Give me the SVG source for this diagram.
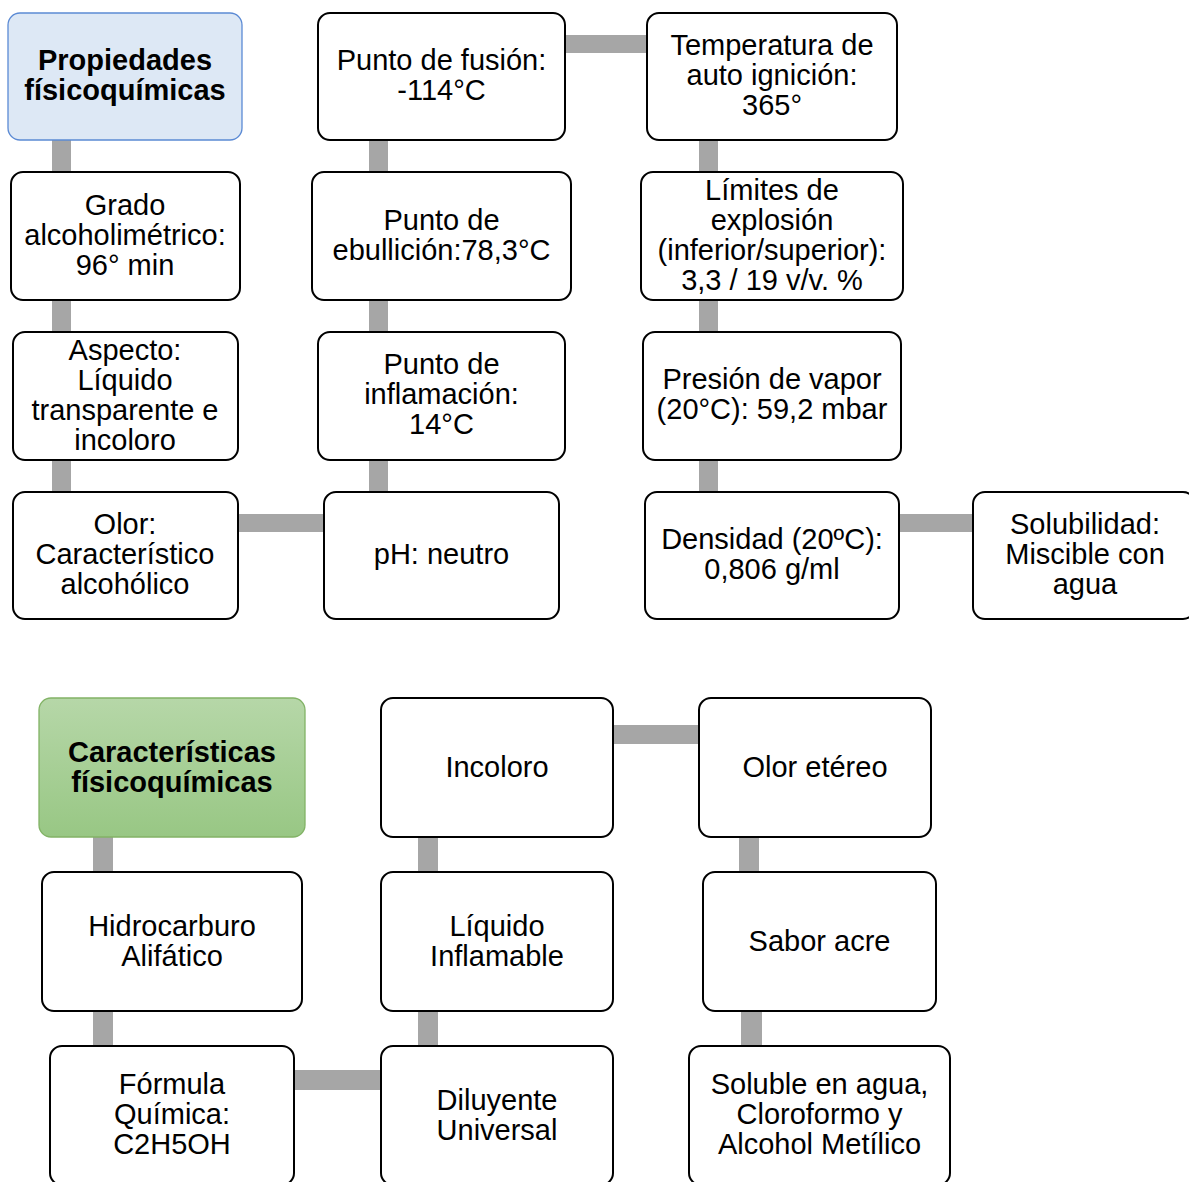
<svg xmlns="http://www.w3.org/2000/svg" width="1189" height="1182" viewBox="0 0 1189 1182">
  <style>
    .box { fill: #ffffff; stroke: #000000; stroke-width: 2; }
    .head-blue { fill: #dde8f5; stroke: #5b8ad4; stroke-width: 1.3; }
    .head-green { fill: url(#greenFill); stroke: #82b366; stroke-width: 1.3; }
    .link { fill: #a6a6a6; }
    text { font-family: "Liberation Sans", Arial, sans-serif; font-size: 29px; fill: #000000; text-anchor: middle; }
    .title { font-weight: bold; }
  </style>
  <defs>
    <linearGradient id="greenFill" x1="0" y1="0" x2="0" y2="1">
      <stop offset="0" stop-color="#b6d7a8"/>
      <stop offset="1" stop-color="#98c784"/>
    </linearGradient>
  </defs>
  <rect width="1189" height="1182" fill="#ffffff"/>

  <!-- connectors (thick grey bars) -->
  <g id="connectors">
    <!-- upper chart, vertical -->
    <rect class="link" x="52" y="139" width="19" height="34"/>
    <rect class="link" x="52" y="299" width="19" height="34"/>
    <rect class="link" x="52" y="459" width="19" height="34"/>
    <rect class="link" x="369" y="139" width="19" height="34"/>
    <rect class="link" x="369" y="299" width="19" height="34"/>
    <rect class="link" x="369" y="459" width="19" height="34"/>
    <rect class="link" x="699" y="139" width="19" height="34"/>
    <rect class="link" x="699" y="299" width="19" height="34"/>
    <rect class="link" x="699" y="459" width="19" height="34"/>
    <!-- upper chart, horizontal -->
    <rect class="link" x="564" y="35" width="84" height="18"/>
    <rect class="link" x="237" y="514" width="88" height="18"/>
    <rect class="link" x="898" y="514" width="76" height="18"/>
    <!-- lower chart, vertical -->
    <rect class="link" x="93" y="836" width="20" height="37"/>
    <rect class="link" x="93" y="1010" width="20" height="37"/>
    <rect class="link" x="418" y="836" width="20" height="37"/>
    <rect class="link" x="418" y="1010" width="20" height="37"/>
    <rect class="link" x="739" y="836" width="20" height="37"/>
    <rect class="link" x="741" y="1010" width="21" height="37"/>
    <!-- lower chart, horizontal -->
    <rect class="link" x="612" y="725" width="88" height="19"/>
    <rect class="link" x="293" y="1070" width="89" height="20"/>
  </g>

  <!-- upper chart -->
  <g id="n-propiedades">
    <rect class="head-blue" x="8" y="13" width="234" height="127" rx="12"/>
    <text class="title" x="125" y="70">Propiedades</text>
    <text class="title" x="125" y="100">físicoquímicas</text>
  </g>
  <g id="n-grado">
    <rect class="box" x="11" y="172" width="229" height="128" rx="12"/>
    <text x="125" y="215">Grado</text>
    <text x="125" y="245">alcoholimétrico:</text>
    <text x="125" y="275">96° min</text>
  </g>
  <g id="n-aspecto">
    <rect class="box" x="13" y="332" width="225" height="128" rx="12"/>
    <text x="125" y="360">Aspecto:</text>
    <text x="125" y="390">Líquido</text>
    <text x="125" y="420">transparente e</text>
    <text x="125" y="450">incoloro</text>
  </g>
  <g id="n-olor">
    <rect class="box" x="13" y="492" width="225" height="127" rx="12"/>
    <text x="125" y="534">Olor:</text>
    <text x="125" y="564">Característico</text>
    <text x="125" y="594">alcohólico</text>
  </g>
  <g id="n-fusion">
    <rect class="box" x="318" y="13" width="247" height="127" rx="12"/>
    <text x="441.5" y="70">Punto de fusión:</text>
    <text x="441.5" y="100">-114°C</text>
  </g>
  <g id="n-ebullicion">
    <rect class="box" x="312" y="172" width="259" height="128" rx="12"/>
    <text x="441.5" y="230">Punto de</text>
    <text x="441.5" y="260">ebullición:78,3°C</text>
  </g>
  <g id="n-inflamacion">
    <rect class="box" x="318" y="332" width="247" height="128" rx="12"/>
    <text x="441.5" y="374">Punto de</text>
    <text x="441.5" y="404">inflamación:</text>
    <text x="441.5" y="434">14°C</text>
  </g>
  <g id="n-ph">
    <rect class="box" x="324" y="492" width="235" height="127" rx="12"/>
    <text x="441.5" y="564">pH: neutro</text>
  </g>
  <g id="n-temperatura">
    <rect class="box" x="647" y="13" width="250" height="127" rx="12"/>
    <text x="772" y="55">Temperatura de</text>
    <text x="772" y="85">auto ignición:</text>
    <text x="772" y="115">365°</text>
  </g>
  <g id="n-limites">
    <rect class="box" x="641" y="172" width="262" height="128" rx="12"/>
    <text x="772" y="200">Límites de</text>
    <text x="772" y="230">explosión</text>
    <text x="772" y="260">(inferior/superior):</text>
    <text x="772" y="290">3,3 / 19 v/v. %</text>
  </g>
  <g id="n-presion">
    <rect class="box" x="643" y="332" width="258" height="128" rx="12"/>
    <text x="772" y="389">Presión de vapor</text>
    <text x="772" y="419">(20°C): 59,2 mbar</text>
  </g>
  <g id="n-densidad">
    <rect class="box" x="645" y="492" width="254" height="127" rx="12"/>
    <text x="772" y="549">Densidad (20ºC):</text>
    <text x="772" y="579">0,806 g/ml</text>
  </g>
  <g id="n-solubilidad">
    <rect class="box" x="973" y="492" width="222" height="127" rx="12"/>
    <text x="1085" y="534">Solubilidad:</text>
    <text x="1085" y="564">Miscible con</text>
    <text x="1085" y="594">agua</text>
  </g>

  <!-- lower chart -->
  <g id="n-caracteristicas">
    <rect class="head-green" x="39" y="698" width="266" height="139" rx="12"/>
    <text class="title" x="172" y="762">Características</text>
    <text class="title" x="172" y="792">físicoquímicas</text>
  </g>
  <g id="n-hidrocarburo">
    <rect class="box" x="42" y="872" width="260" height="139" rx="12"/>
    <text x="172" y="936">Hidrocarburo</text>
    <text x="172" y="966">Alifático</text>
  </g>
  <g id="n-formula">
    <rect class="box" x="50" y="1046" width="244" height="139" rx="12"/>
    <text x="172" y="1094">Fórmula</text>
    <text x="172" y="1124">Química:</text>
    <text x="172" y="1154">C2H5OH</text>
  </g>
  <g id="n-incoloro">
    <rect class="box" x="381" y="698" width="232" height="139" rx="12"/>
    <text x="497" y="777">Incoloro</text>
  </g>
  <g id="n-liquido">
    <rect class="box" x="381" y="872" width="232" height="139" rx="12"/>
    <text x="497" y="936">Líquido</text>
    <text x="497" y="966">Inflamable</text>
  </g>
  <g id="n-diluyente">
    <rect class="box" x="381" y="1046" width="232" height="139" rx="12"/>
    <text x="497" y="1110">Diluyente</text>
    <text x="497" y="1140">Universal</text>
  </g>
  <g id="n-olor-etereo">
    <rect class="box" x="699" y="698" width="232" height="139" rx="12"/>
    <text x="815" y="777">Olor etéreo</text>
  </g>
  <g id="n-sabor">
    <rect class="box" x="703" y="872" width="233" height="139" rx="12"/>
    <text x="819.5" y="951">Sabor acre</text>
  </g>
  <g id="n-soluble">
    <rect class="box" x="689" y="1046" width="261" height="139" rx="12"/>
    <text x="819.5" y="1094">Soluble en agua,</text>
    <text x="819.5" y="1124">Cloroformo y</text>
    <text x="819.5" y="1154">Alcohol Metílico</text>
  </g>
</svg>
